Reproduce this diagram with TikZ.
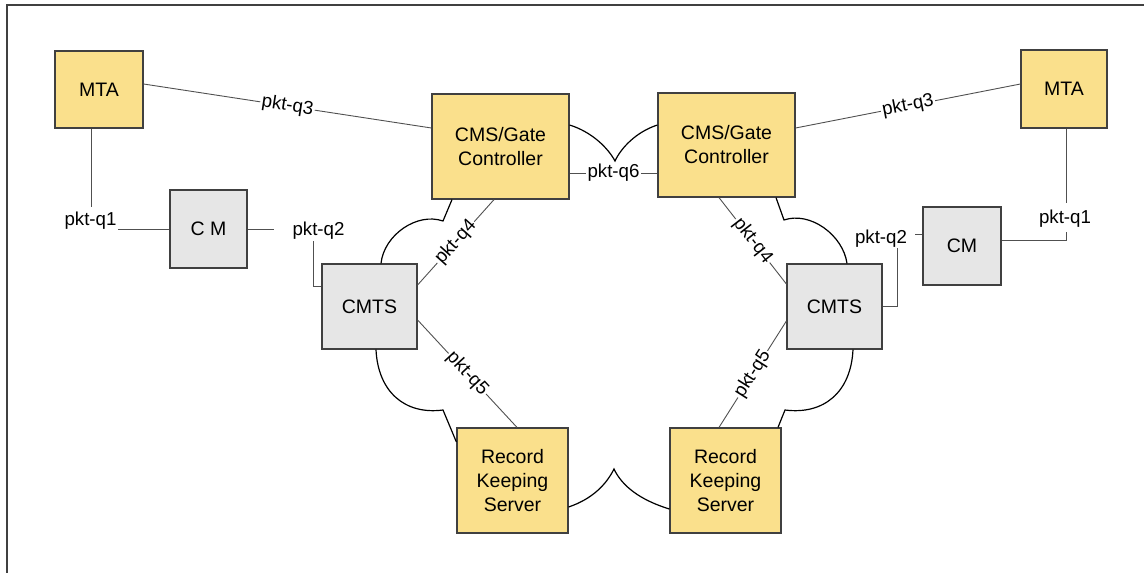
\documentclass[tikz,border=0pt]{standalone}
\usepackage{fontspec}
\setmainfont{Liberation Sans}
\definecolor{boxy}{RGB}{250,224,140}
\definecolor{boxg}{RGB}{230,230,230}
\definecolor{edgec}{RGB}{64,64,64}
\definecolor{linkc}{RGB}{80,80,80}
\begin{document}
\begin{tikzpicture}[x=1pt,y=-1pt,
  box/.style={draw=edgec, line width=1.2pt, inner sep=0pt, align=center,
    font=\fontsize{19.5}{24}\selectfont},
  ybox/.style={box, fill=boxy},
  gbox/.style={box, fill=boxg},
  link/.style={draw=linkc, line width=0.9pt},
  cloudline/.style={draw=black, line width=1.2pt},
  lbl/.style={font=\fontsize{18.7}{22}\selectfont, inner sep=0pt},
  slbl/.style={lbl, sloped, fill=white, inner sep=1.5pt, midway},
  framec/.style={draw=edgec, line width=1.5pt}]
\useasboundingbox (0,0) rectangle (1144,573);
\draw[framec] (7,573) -- (7,5) -- (1144,5);

% boxes
\node[ybox, minimum width=88pt, minimum height=77pt] (mtaL) at (99,89.5) {MTA};
\node[gbox, minimum width=77pt, minimum height=78pt] (cmL) at (208.5,229) {C M};
\node[gbox, minimum width=95pt, minimum height=85pt] (cmtsL) at (369.5,306.5) {CMTS};
\node[ybox, minimum width=137pt, minimum height=105pt] (cmsL) at (500.5,146.5) {CMS/Gate\\Controller};
\node[ybox, minimum width=137pt, minimum height=104pt] (cmsR) at (726.5,145) {CMS/Gate\\Controller};
\node[ybox, minimum width=111pt, minimum height=105pt] (rksL) at (512.5,480.5) {Record\\Keeping\\Server};
\node[ybox, minimum width=111pt, minimum height=105pt] (rksR) at (725.5,480.5) {Record\\Keeping\\Server};
\node[gbox, minimum width=95pt, minimum height=85pt] (cmtsR) at (834.5,306.5) {CMTS};
\node[gbox, minimum width=78pt, minimum height=78pt] (cmR) at (962,246) {CM};
\node[ybox, minimum width=86pt, minimum height=78pt] (mtaR) at (1064,89) {MTA};

% cloud outlines
\draw[cloudline] (cmsL.east |- 0,125) .. controls (592,132) and (608,148) .. (615,161)
  .. controls (621,148) and (636,132) .. (cmsR.west |- 0,125);
\draw[cloudline] (cmsL.south -| 452,0) -- (443,221) .. controls (417,212) and (384,235) .. (cmtsL.north -| 381,0);
\draw[cloudline] (cmtsL.south -| 376,0) .. controls (378,392) and (405,415) .. (443,410) -- (rksL.west |- 0,442);
\draw[cloudline] (rksL.east |- 0,507) .. controls (592,499) and (606,485) .. (614,469)
  .. controls (622,486) and (640,500) .. (rksR.west |- 0,509);
\draw[cloudline] (cmtsR.south -| 853,0) .. controls (851,392) and (824,415) .. (785,410) -- (rksR.north -| 778,0);
\draw[cloudline] (cmsR.south -| 776,0) -- (784,220) .. controls (810,211) and (843,235) .. (cmtsR.north -| 847,0);

% left pkt-q1
\coordinate (q1La) at (91,207);
\coordinate (q1Lb) at (118,229);
\draw[link] (mtaL.south -| q1La) -- (q1La);
\draw[link] (q1Lb) -- (cmL.west |- q1Lb);
\node[lbl, anchor=base] (q1L) at (90.5,225) {pkt-q1};

% left pkt-q2
\coordinate (q2La) at (274,229);
\coordinate (q2Lb) at (313,241);
\draw[link] (cmL.east |- q2La) -- (q2La);
\draw[link] (q2Lb) |- (cmtsL.west |- 0,286);
\node[lbl, anchor=base] (q2L) at (318.5,235) {pkt-q2};

% right pkt-q2
\coordinate (q2Ra) at (915,234);
\coordinate (q2Rb) at (897,248);
\draw[link] (cmR.west |- q2Ra) -- (q2Ra);
\draw[link] (q2Rb) |- (cmtsR.east |- 0,306);
\node[lbl, anchor=base] (q2R) at (881,243) {pkt-q2};

% right pkt-q1
\coordinate (q1Ra) at (1066,203);
\coordinate (q1Rb) at (1066,232);
\draw[link] (mtaR.south -| q1Ra) -- (q1Ra);
\draw[link] (q1Rb) |- (cmR.east |- 0,240);
\node[lbl, anchor=base] (q1R) at (1065,223) {pkt-q1};

% sloped links
\draw[link] (mtaL.east |- 0,84) -- (cmsL.west |- 0,128) node[slbl] {pkt-q3};
\draw[link] (cmsR.east |- 0,128) -- (mtaR.west |- 0,84) node[slbl] {pkt-q3};
\draw[link] (cmsL.east |- 0,173) -- (cmsR.west |- 0,173) node[lbl, midway, fill=white, inner sep=1.5pt] {pkt-q6};
\draw[link] (cmtsL.east |- 0,285) -- (cmsL.south -| 494,0) node[slbl] {pkt-q4};
\draw[link] (cmsR.south -| 719,0) -- (cmtsR.west |- 0,284) node[slbl] {pkt-q4};
\draw[link] (cmtsL.east |- 0,320) -- (rksL.north -| 517,0) node[slbl] {pkt-q5};
\draw[link] (rksR.north -| 719,0) -- (cmtsR.west |- 0,321) node[slbl] {pkt-q5};
\end{tikzpicture}
\end{document}
